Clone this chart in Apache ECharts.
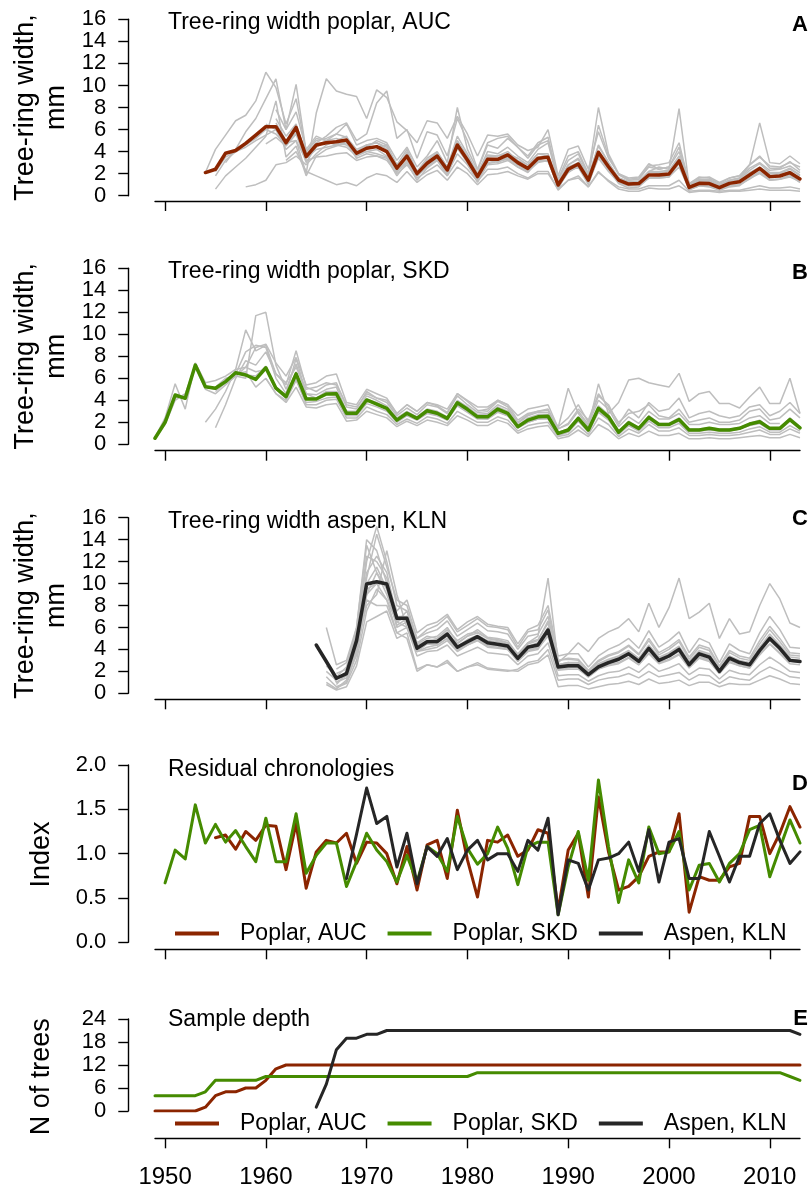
<!DOCTYPE html>
<html><head><meta charset="utf-8">
<script src="https://cdn.jsdelivr.net/npm/echarts@6/dist/echarts.min.js"></script>
<style>html,body{margin:0;padding:0;background:#fff}#c{width:809px;height:1185px}</style>
</head><body><div id="c"></div>
<script>
const FONT = "'Liberation Sans', Arial, Helvetica, sans-serif";
const xTicks = [1950,1960,1970,1980,1990,2000,2010];

// ---- Panel A: poplar AUC ring widths ----
const aucMeanStart = 1954;
const aucMean = [2.1,2.4,3.85,4.1,4.75,5.5,6.26,6.26,4.8,6.2,
 3.55,4.6,4.8,4.9,5.05,3.85,4.3,4.45,4.0,2.5,
 3.6,2.0,2.94,3.6,2.33,4.6,3.24,1.73,3.3,3.3,
 3.7,3.0,2.48,3.4,3.48,0.97,2.4,2.88,1.42,3.94,
 2.63,1.42,1.06,1.1,1.88,1.88,1.97,3.15,0.76,1.12,
 1.1,0.73,1.12,1.27,1.88,2.48,1.73,1.79,2.09,1.52];
const aucTreeStart = [1954,1955,1955,1958,1956,1961,1962,1960,1960,1961,1961,1955];
const aucTrees = [
 [2.1,4.2,5.5,6.8,7.3,8.6,11.2,9.8,6.5,8.8, 4.0,5.2,5.0,5.6,5.3,4.2,4.6,4.8,4.2,2.4, 4.0,2.0,3.0,3.8,2.2,5.0,3.3,1.6,3.4,3.0, 3.5,2.8,2.2,3.1,3.2,0.8,2.1,2.7,1.2,3.8, 2.4,1.2,0.9,0.9,1.6,1.7,1.8,2.9,0.6,0.9, 0.9,0.6,0.9,1.0,1.5,2.1,1.5,1.5,1.8,1.2],
 [2.2,3.5,4.0,4.4,5.0,5.5,6.0,4.8,5.0, 2.0,7.5,10.6,9.5,9.2,9.0,7.0,9.6,8.9,6.7, 5.9,4.8,6.8,6.6,5.2,7.2,5.6,3.6,5.5,5.4, 5.6,4.6,4.1,4.4,6.0,1.8,4.2,4.5,2.4,5.8, 3.4,2.0,1.6,1.7,2.9,2.4,2.6,4.4,1.1,1.6, 1.7,1.2,1.6,1.8,2.8,3.5,2.7,2.6,3.0,2.6],
 [0.6,1.8,2.6,3.4,4.4,5.4,8.6,3.5,4.5, 1.8,3.6,4.2,4.5,4.8,3.4,3.8,3.6,3.4,1.8, 3.0,1.4,2.5,3.2,1.8,4.3,3.0,1.2,2.9,3.1, 3.3,2.6,2.1,3.2,3.6,0.6,2.3,2.6,1.0,3.6, 2.4,1.1,0.7,0.8,1.6,1.6,1.7,3.0,0.5,0.9, 0.8,0.5,0.8,0.9,1.6,2.2,1.4,1.5,1.9,1.2],
 [0.8,1.0,1.4,2.8,3.0,3.6, 2.8,3.8,4.6,5.0,5.4,3.6,4.4,5.0,4.6,2.8, 4.2,2.2,3.4,4.0,2.6,5.4,3.8,2.0,4.0,3.8, 4.4,3.6,3.0,4.2,4.8,1.2,2.8,3.4,1.7,4.6, 3.0,1.6,1.2,1.2,2.1,2.1,2.2,3.4,0.8,1.2, 1.2,0.8,1.2,1.4,2.1,2.6,2.0,2.0,2.4,1.8],
 [3.0,4.2,5.8,7.0,8.8,10.6,6.0,10.1, 4.0,5.0,5.2,5.6,6.5,4.6,5.0,5.2,4.8,3.2, 4.4,2.6,3.6,5.0,3.0,8.0,4.2,2.3,4.6,4.3, 5.2,4.4,3.4,4.6,5.0,1.5,3.6,4.0,2.0,8.0, 3.8,2.0,1.5,1.6,2.7,2.8,3.0,4.8,1.1,1.7, 1.6,1.1,1.6,1.8,2.8,3.6,2.5,2.5,3.1,2.3],
 [7.0,5.4,6.5, 3.6,4.4,4.9,4.6,4.9,3.8,4.0,4.2,3.6,2.2, 3.2,1.8,2.6,3.4,2.0,4.4,3.0,1.5,3.0,3.2, 3.4,2.8,2.3,3.2,3.1,0.9,2.2,3.0,1.4,3.6, 2.8,1.6,1.2,1.3,2.2,2.6,2.4,7.9,0.9,1.4, 1.4,0.9,1.4,1.6,2.8,6.6,3.0,2.9,3.6,2.9],
 [3.2,4.0, 2.2,1.8,1.4,1.0,1.2,0.9,1.6,2.0,1.8,1.2, 2.2,1.2,1.9,2.3,1.4,2.6,2.0,1.0,1.9,2.0, 2.2,1.8,1.5,2.0,2.0,0.6,1.4,1.6,0.8,2.1, 1.4,0.8,0.6,0.6,0.9,0.9,0.9,1.4,0.4,0.5, 0.5,0.4,0.5,0.5,0.7,0.9,0.7,0.7,0.8,0.6],
 [6.5,6.0,4.2,5.0, 3.2,3.5,3.6,3.8,3.9,3.2,3.5,3.6,3.2,2.0, 2.8,1.6,2.2,2.8,1.8,3.2,2.4,1.3,2.4,2.4, 2.6,2.0,1.6,2.2,2.2,0.5,1.4,1.8,0.8,2.2, 1.3,0.6,0.4,0.4,0.7,0.6,0.6,0.9,0.3,0.4, 0.4,0.3,0.4,0.4,0.5,0.6,0.5,0.5,0.5,0.4],
 [4.7,5.3,4.5,5.6, 3.0,4.5,5.0,4.8,4.6,3.9,4.5,4.4,4.6,2.5, 3.8,2.0,2.8,3.4,2.6,4.6,3.4,1.8,3.5,3.6, 3.8,3.4,2.8,3.8,3.6,1.0,2.6,3.0,1.6,4.0, 2.6,1.6,1.2,1.2,2.2,2.0,2.0,3.0,0.8,1.2, 1.2,0.8,1.2,1.4,2.0,2.4,1.8,1.9,2.2,1.6],
 [6.6,5.0,6.4, 3.8,4.8,5.4,6.2,6.6,5.0,5.6,8.4,9.5,5.2, 6.0,3.4,5.8,5.5,3.6,7.0,5.0,2.4,4.8,5.2, 5.4,4.4,3.6,4.8,5.3,1.4,3.2,3.8,1.8,6.4, 3.6,1.9,1.4,1.5,2.6,2.4,2.6,4.0,1.0,1.5, 1.5,1.0,1.4,1.6,2.5,3.0,2.3,2.4,2.7,2.1],
 [7.8,6.0,7.6, 4.2,5.4,5.0,5.2,4.9,4.0,4.6,4.8,4.4,2.8, 3.6,2.2,3.2,3.9,2.6,5.0,3.6,2.0,3.7,3.6, 4.0,3.2,2.8,3.8,3.8,1.1,2.8,3.3,1.6,4.5, 3.0,1.6,1.3,1.3,2.2,2.2,2.3,3.6,0.9,1.3, 1.3,0.8,1.3,1.5,2.3,2.9,2.1,2.1,2.5,1.9],
 [1.8,3.2,4.0,4.6,5.2,6.0,5.6,4.6,5.8, 3.4,4.2,4.4,4.6,4.4,3.6,4.0,3.8,3.5,2.2, 3.0,1.8,2.6,3.2,2.0,3.8,2.8,1.4,2.8,2.9, 3.2,2.6,2.2,3.0,3.2,0.8,2.2,2.6,1.2,3.4, 2.2,1.2,0.9,1.0,1.6,1.6,1.7,2.6,0.6,0.9, 0.9,0.6,0.9,1.0,1.6,2.0,1.4,1.5,1.7,1.3]
];

// ---- Panel B: poplar SKD ring widths ----
const skdMeanStart = 1949;
const skdMean = [0.55,2.0,4.48,4.18,7.2,5.24,5.09,5.7,6.5,6.3,
 5.9,6.96,5.1,4.33,6.4,4.12,4.12,4.57,4.6,2.82,
 2.82,4.03,3.66,3.27,2.2,2.82,2.36,3.05,2.82,2.36,
 3.78,3.18,2.5,2.5,3.2,2.82,1.6,2.2,2.5,2.55,
 1.0,1.3,2.36,1.3,3.27,2.5,1.1,1.96,1.45,2.45,
 1.8,1.8,2.25,1.3,1.3,1.45,1.3,1.3,1.45,1.84,
 2.05,1.45,1.45,2.25,1.5];
const skdTreeStart = [1949,1949,1949,1949,1954,1955,1955,1955,1960,1981];
const skdTrees = [
 [0.6,2.4,5.5,3.2,7.4,5.6,5.8,6.2,6.8,10.4, 8.5,9.0,6.4,5.4,8.5,5.2,4.8,5.4,5.6,3.4, 3.2,4.8,4.2,3.8,2.6,3.3,2.7,3.6,3.4,2.8, 4.4,3.6,2.9,2.8,3.6,3.2,1.9,2.6,2.9,2.9, 1.6,2.4,3.6,2.0,4.4,3.6,1.8,3.2,2.4,3.8, 3.0,3.2,4.2,2.4,2.8,3.0,2.6,2.4,2.6,3.4, 3.6,2.6,3.0,3.8,2.8],
 [0.5,1.8,4.0,4.6,7.0,5.0,4.6,5.4,6.2,6.0, 11.7,12.0,7.2,5.0,7.3,4.6,4.5,5.0,5.2,3.0, 3.0,4.4,4.0,3.5,2.4,3.0,2.5,3.2,3.0,2.5, 4.0,3.4,2.7,2.7,3.4,3.0,1.7,2.4,2.7,2.7, 1.1,1.4,2.5,1.4,3.5,2.7,1.2,2.1,1.5,2.6, 1.9,1.9,2.4,1.4,1.4,1.5,1.4,1.4,1.5,1.9, 2.2,1.5,1.5,2.4,1.6],
 [0.6,1.9,4.2,4.5,7.3,5.2,5.0,5.6,6.4,6.6, 5.2,6.0,4.6,4.0,5.8,3.8,3.9,4.2,4.3,2.6, 2.6,3.7,3.4,3.0,2.0,2.6,2.2,2.8,2.6,2.2, 3.5,2.9,2.3,2.3,2.9,2.6,1.5,2.0,2.3,2.4, 0.9,1.2,2.2,1.2,3.0,2.3,1.0,1.8,1.3,2.3, 1.7,1.7,2.1,1.2,1.2,1.3,1.2,1.2,1.4,1.7, 1.9,1.3,1.3,2.1],
 [0.5,2.0,4.3,4.3,7.1,5.3,5.0,5.8,6.6,6.3, 6.2,7.1,5.2,4.4,6.6,4.2,4.2,4.6,4.7,2.9, 2.9,4.1,3.8,3.3,2.3,2.9,2.4,3.1,2.9,2.4, 3.8,3.2,2.5,2.5,3.2,2.8,1.6,2.2,2.5,2.5, 1.0,1.3,2.4,1.3,3.3,2.5,1.1,2.0,1.4,2.5, 1.8,1.8,2.3,1.3,1.3,1.4,1.3,1.3,1.4,1.8, 2.1,1.4,1.4,2.3,1.5],
 [2.0,3.2,4.8,6.8,7.0, 8.8,9.1,7.4,6.2,7.9,5.4,5.6,6.2,6.4,3.8, 3.6,5.0,4.6,4.2,2.8,3.6,3.0,3.8,3.5,2.9, 4.6,3.9,3.1,3.0,3.9,3.4,2.0,2.7,3.0,3.1, 1.4,1.9,3.2,2.2,4.6,3.4,2.0,2.8,3.0,3.6, 2.6,2.4,3.2,2.0,2.2,2.4,2.0,2.0,2.2,3.0, 3.2,2.2,2.4,3.2,2.4],
 [1.5,3.6,6.0,7.6, 7.2,8.4,6.4,5.6,7.0,5.0,5.2,5.6,5.4,3.6, 3.4,4.6,4.2,4.0,2.8,3.6,3.0,3.8,3.6,3.2, 4.6,4.0,3.4,3.4,4.0,3.6,2.6,3.2,3.4,3.6, 1.5,5.1,2.8,1.6,5.5,2.8,3.8,5.85,6.0,5.6, 5.4,5.2,6.45,3.9,4.6,4.8,3.7,3.7,3.3,4.3, 5.2,3.7,3.7,6.0,2.8],
 [4.8,5.6,6.4,8.4, 9.0,8.8,6.0,4.6,7.8,4.6,4.2,4.8,4.8,3.0, 2.8,4.0,3.6,3.2,2.1,2.7,2.2,2.9,2.7,2.2, 3.6,3.0,2.4,2.3,3.0,2.6,1.5,2.0,2.3,2.3, 0.8,1.1,2.1,1.1,2.9,2.2,0.9,1.7,1.2,2.1, 1.5,1.5,1.9,1.0,1.0,1.1,1.0,1.0,1.1,1.4, 1.6,1.1,1.1,1.7,1.2],
 [5.2,6.0,6.2,7.0, 6.6,6.8,5.0,4.2,6.0,3.6,3.6,4.0,4.1,2.4, 2.4,3.4,3.0,2.7,1.8,2.3,1.9,2.5,2.3,1.9, 3.0,2.5,2.0,2.0,2.5,2.2,1.2,1.7,1.9,2.0, 0.7,0.9,1.7,0.9,2.4,1.8,0.7,1.4,1.0,1.8, 1.2,1.2,1.5,0.8,0.8,0.9,0.8,0.8,0.9,1.1, 1.3,0.9,0.9,1.4,1.0],
 [6.0,4.6,3.8,5.2,3.4,3.3,3.6,3.7,2.1, 2.2,3.0,2.7,2.4,1.6,2.1,1.7,2.2,2.0,1.7, 2.6,2.2,1.7,1.7,2.2,1.9,1.0,1.4,1.6,1.7, 0.5,0.7,1.3,0.7,1.8,1.3,0.5,1.0,0.7,1.2, 0.8,0.8,1.0,0.5,0.5,0.6,0.5,0.5,0.6,0.7, 0.8,0.6,0.6,0.9,0.6],
 [3.0,3.2,4.0,3.6,2.2,2.8,3.0,3.2, 1.4,1.8,3.0,1.8,4.0,3.2,1.6,2.5,1.9,3.0, 2.3,2.3,2.8,1.8,1.8,2.0,1.8,1.8,1.9,2.4, 2.6,1.9,1.9]
];

// ---- Panel C: aspen KLN ring widths ----
const klnMeanStart = 1965;
const klnMean = [4.4,2.9,1.37,1.8,4.8,9.96,10.17,9.96,6.83,6.83,
 4.1,4.7,4.7,5.4,4.2,4.7,5.16,4.6,4.46,4.31,
 3.19,4.19,4.4,5.77,2.4,2.5,2.5,1.7,2.4,2.8,
 3.1,3.6,2.9,4.1,3.0,3.4,4.0,2.6,3.6,3.3,
 2.0,3.2,2.8,2.6,3.9,5.0,4.1,3.0,2.9];
const klnTreeStart = [1965,1966,1966,1966,1966,1966,1966,1967,1967,1967,1967,1967,1968,1967];
const klnTrees = [
 [4.4,3.0,1.0,1.6,5.0,12.0,15.2,12.0,8.0,7.5, 5.0,5.5,5.8,6.6,5.2,5.8,6.4,5.7,5.6,5.4, 4.0,5.2,5.4,7.0,3.0,3.2,3.1,2.1,3.0,3.5, 3.8,4.4,3.6,5.0,3.7,4.2,4.9,3.3,4.4,4.1, 2.5,3.9,3.4,3.2,4.8,6.1,5.0,3.7,3.6],
 [2.0,1.2,2.0,4.2,8.0,9.0,13.0,9.0,6.0, 3.8,4.0,4.2,4.8,3.8,4.4,4.8,4.2,4.1,4.0, 2.9,3.8,4.0,5.4,2.1,2.2,2.2,1.5,2.2,2.5, 2.7,3.2,2.6,3.6,2.7,3.0,3.5,2.3,3.2,2.9, 1.8,2.8,2.5,2.3,3.5,4.5,3.6,2.7,2.6],
 [6.0,2.6,3.0,6.0,14.0,13.0,10.0,7.5,8.5, 5.5,6.2,6.5,7.2,5.8,6.5,7.0,6.3,6.1,6.0, 4.5,5.8,6.2,8.0,3.4,3.6,3.6,2.4,3.4,4.0, 4.4,5.0,4.1,5.7,4.2,4.8,5.6,3.7,5.0,4.6, 2.8,4.5,3.9,3.6,5.5,7.0,5.8,4.2,4.1],
 [1.5,0.6,1.0,3.8,10.0,11.5,9.5,6.0,6.5, 4.0,4.6,4.8,5.5,4.5,5.2,5.5,5.0,4.8,4.6, 3.6,4.6,5.2,10.5,2.8,3.6,4.6,3.8,5.0,5.6, 6.0,6.8,5.6,8.2,6.0,7.8,10.5,6.8,7.4,8.2, 5.0,6.8,5.4,5.6,8.0,10.0,8.6,6.4,6.0],
 [1.0,0.4,1.2,4.0,9.0,10.0,8.5,6.5,7.0, 4.2,4.8,4.6,5.2,4.0,4.6,5.0,4.5,4.4,4.2, 3.2,4.2,4.4,5.6,2.2,2.3,2.4,1.6,2.3,2.7, 3.0,3.5,2.8,3.9,2.9,3.3,3.8,2.5,3.4,3.1, 1.9,3.0,2.6,2.4,3.7,4.8,3.9,2.9,2.8],
 [2.5,1.5,2.4,5.2,11.0,12.5,11.0,7.0,7.0, 4.5,5.0,5.2,6.0,4.6,5.2,5.8,5.1,5.0,4.8, 3.5,4.6,4.9,6.4,2.6,2.8,2.8,1.9,2.7,3.1, 3.4,3.9,3.2,4.4,3.3,3.7,4.3,2.9,3.9,3.6, 2.2,3.4,3.0,2.8,4.2,5.4,4.4,3.3,3.2],
 [0.8,0.3,0.6,2.5,6.5,7.0,7.5,5.0,5.5, 2.2,2.6,2.4,2.8,2.0,2.4,2.6,2.2,2.1,2.0, 2.2,2.8,3.0,4.0,1.2,1.3,1.3,0.8,1.2,1.4, 1.5,1.8,1.4,2.0,1.5,1.7,1.9,1.2,1.7,1.6, 0.9,1.5,1.3,1.2,1.9,2.4,2.0,1.5,1.4],
 [1.8,2.2,6.0,13.5,11.0,9.0,6.5,6.0, 3.8,4.2,4.4,5.0,3.9,4.4,4.8,4.3,4.2,4.0, 3.0,3.9,4.2,5.4,2.6,2.8,2.6,1.8,2.6,3.0, 3.3,3.8,3.0,4.2,3.0,3.4,4.0,2.7,3.6,3.4, 2.0,3.2,2.8,2.6,3.9,5.0,4.1,3.0,2.9],
 [0.8,1.8,4.4,10.5,14.5,11.5,8.5,8.0, 5.0,5.8,6.2,7.0,5.6,6.2,6.8,6.1,6.0,5.8, 4.2,5.6,5.8,7.6,3.0,3.1,3.0,2.0,2.9,3.4, 3.7,4.3,3.5,4.8,3.5,4.0,4.7,3.1,4.2,3.9, 2.4,3.7,3.2,3.0,4.5,5.8,4.7,3.5,3.4],
 [1.0,1.4,3.6,8.5,8.0,8.0,5.5,6.0, 3.4,3.8,3.9,4.4,3.4,3.8,4.2,3.7,3.6,3.5, 2.6,3.4,3.6,4.6,1.6,1.7,1.7,1.1,1.6,1.9, 2.0,2.4,1.9,2.7,2.0,2.3,2.7,1.7,2.3,2.2, 1.3,2.1,1.8,1.7,2.6,3.3,2.7,2.0,1.9],
 [2.2,2.8,5.5,12.5,12.0,10.5,7.0,6.5, 4.4,4.8,4.9,5.6,4.3,4.9,5.3,4.8,4.7,4.5, 3.3,4.3,4.6,6.0,2.5,2.6,2.7,1.8,2.6,3.0, 3.2,3.7,3.0,4.2,3.1,3.5,4.1,2.8,3.7,3.4, 2.1,3.3,2.9,2.7,4.0,5.1,4.2,3.1,3.0],
 [1.4,1.6,4.0,9.5,10.0,10.0,6.5,7.5, 4.6,5.2,5.0,5.8,4.8,5.4,5.6,5.0,4.9,4.6, 3.4,4.5,4.8,6.6,2.6,2.7,2.6,1.8,2.6,3.0, 3.3,3.8,3.1,4.3,3.2,3.6,4.2,2.8,3.8,3.5, 2.1,3.3,2.9,2.7,4.1,5.2,4.3,3.1,3.0],
 [1.2,3.5,9.0,11.0,9.5,6.2,6.8, 3.8,4.5,4.4,5.0,4.0,4.5,4.9,4.4,4.3,4.1, 3.0,3.9,4.1,5.2,2.2,2.4,2.3,1.5,2.2,2.6, 2.8,3.3,2.6,3.7,2.8,3.1,3.6,2.4,3.3,3.0, 1.8,2.9,2.5,2.3,3.6,4.5,3.7,2.7],
 [0.5,0.9,3.0,7.5,9.5,8.5,5.5,5.0, 2.0,2.6,2.4,3.0,2.0,2.4,2.8,2.3,2.2,2.1, 2.0,2.6,2.8,3.5,0.6,0.7,0.7,0.4,0.6,0.8, 0.9,1.1,0.8,1.3,0.9,1.0,1.2,0.7,1.0,1.0, 0.6,0.9,0.8,0.8,1.2,1.6,1.3,0.9,0.8]
];

// ---- Panel D: residual chronologies ----
const resAucStart = 1955;
const resAuc = [1.18,1.21,1.05,1.25,1.15,1.32,1.31,0.82,1.34,0.61,
 1.02,1.15,1.12,1.23,0.89,1.13,1.12,1.0,0.66,1.08,
 0.59,1.1,1.15,0.72,1.49,0.93,0.51,1.15,1.13,1.21,
 0.97,1.04,1.27,1.23,0.36,1.04,1.23,0.51,1.64,1.02,
 0.59,0.63,0.74,0.97,1.02,1.02,1.45,0.34,0.74,0.70,
 0.70,0.85,0.89,1.42,1.42,1.0,1.23,1.53,1.30];
const resSkdStart = 1950;
const resSkd = [0.67,1.04,0.94,1.55,1.12,1.33,1.13,1.26,1.08,0.91,
 1.40,0.91,0.91,1.45,0.78,0.98,1.12,1.12,0.63,0.91,
 1.23,1.04,0.91,0.68,0.98,0.68,1.08,1.0,0.8,1.42,
 1.06,0.88,1.0,1.30,1.06,0.65,1.08,1.13,1.13,0.31,
 0.85,1.25,0.70,1.83,1.08,0.45,0.93,0.67,1.30,1.0,
 1.02,1.25,0.59,0.87,0.89,0.68,0.89,1.0,1.27,1.32,
 0.74,1.06,1.38,1.12];
const resKlnStart = 1968;
const resKln = [0.72,1.22,1.74,1.34,1.42,0.85,1.23,0.66,1.08,0.97,
 1.17,0.82,1.04,1.15,0.93,1.0,1.0,0.8,1.15,1.04,
 1.4,0.31,0.93,0.89,0.59,0.93,0.95,1.0,1.13,0.8,
 1.27,0.68,1.13,1.17,0.72,0.72,1.25,0.97,0.68,0.97,
 0.97,1.34,1.45,1.15,0.89,1.02];

// ---- Panel E: sample depth ----
const depthStart = 1949;
const depthAuc = [0,0,0,0,0,1,4,5,5,6,6,8,11,12,12,12,12,12,12,12,
 12,12,12,12,12,12,12,12,12,12,12,12,12,12,12,12,12,12,12,12,
 12,12,12,12,12,12,12,12,12,12,12,12,12,12,12,12,12,12,12,12,
 12,12,12,12,12];
const depthSkd = [4,4,4,4,4,5,8,8,8,8,8,9,9,9,9,9,9,9,9,9,
 9,9,9,9,9,9,9,9,9,9,9,9,10,10,10,10,10,10,10,10,
 10,10,10,10,10,10,10,10,10,10,10,10,10,10,10,10,10,10,10,10,
 10,10,10,9,8];
const depthKlnStart = 1965;
const depthKln = [1,7,16,19,19,20,20,21,21,21,21,21,21,21,21,21,21,21,21,21,
 21,21,21,21,21,21,21,21,21,21,21,21,21,21,21,21,21,21,21,21,
 21,21,21,21,21,21,21,21,20];

const panelTitles = ['Tree-ring width poplar, AUC','Tree-ring width poplar, SKD','Tree-ring width aspen, KLN','Residual chronologies','Sample depth'];
const panelLetters = ['A','B','C','D','E'];
const yNames = ['Tree-ring width,\nmm','Tree-ring width,\nmm','Tree-ring width,\nmm','Index','N of trees'];
const legendNames = ['Poplar, AUC','Poplar, SKD','Aspen, KLN'];

const C_RED = '#8B2500', C_GREEN = '#458B00', C_BLACK = '#262626', C_GREY = '#BEBEBE';

function pts(start, arr){ const out=[]; arr.forEach((v,i)=>{ if(v!==null && v!==undefined) out.push([start+i, v]); }); return out; }

const gridBoxes = [
 {top:19.3, height:176.4},
 {top:268.3, height:176},
 {top:517.7, height:175.6},
 {top:765, height:177.3},
 {top:1019, height:92}
];
const xOffsets = [5.3, 6.4, 6, 7, 27.3];
const yRanges = [
 {min:0,max:16,interval:2},{min:0,max:16,interval:2},{min:0,max:16,interval:2},
 {min:0,max:2,interval:0.5},{min:0,max:24,interval:6}
];
const AX = {color:'#000', width:1.4};

const grid = gridBoxes.map(g=>({left:155, width:645, top:g.top, height:g.height, containLabel:false, outerBoundsMode:'none', show:false}));
const xAxis = xOffsets.map((off,i)=>({
  gridIndex:i, type:'value', min:1949, max:2013, position:'bottom', offset:off,
  axisLine:{show:true, onZero:false, lineStyle:AX},
  axisTick:{show:true, length:10, inside:false, customValues:xTicks, lineStyle:AX},
  axisLabel:{show:i===4, customValues:xTicks, fontSize:24, fontFamily:FONT, color:'#000', margin:27,
    formatter:(v=>String(v))},
  splitLine:{show:false}
}));
const yAxis = yRanges.map((r,i)=>({
  gridIndex:i, type:'value', min:r.min, max:r.max, interval:r.interval, position:'left', offset:26.7,
  axisLine:{show:true, onZero:false, lineStyle:AX},
  axisTick:{show:true, length:10, inside:false, lineStyle:AX},
  axisLabel:{fontSize:22, fontFamily:FONT, color:'#000', margin:22,
    formatter: i===3 ? (v=>v.toFixed(1)) : (v=>String(v))},
  splitLine:{show:false}
}));

const series = [];
function grey(gi, start, arr){
  series.push({type:'line', xAxisIndex:gi, yAxisIndex:gi, data:pts(start,arr), symbol:'none', showSymbol:false,
    silent:true, z:1, lineStyle:{color:C_GREY, width:1.5}, animation:false});
}
function main(gi, start, arr, color, width, name){
  const s = {type:'line', xAxisIndex:gi, yAxisIndex:gi, data:pts(start,arr), symbol:'none', showSymbol:false,
    silent:true, z:3, lineStyle:{color:color, width:width, cap:'round', join:'round'}, itemStyle:{color:color}, animation:false};
  if(name) s.name = name;
  series.push(s);
}
aucTrees.forEach((a,k)=>grey(0, aucTreeStart[k], a));
main(0, aucMeanStart, aucMean, C_RED, 3.5);
skdTrees.forEach((a,k)=>grey(1, skdTreeStart[k], a));
main(1, skdMeanStart, skdMean, C_GREEN, 3.5);
klnTrees.forEach((a,k)=>grey(2, klnTreeStart[k], a));
main(2, klnMeanStart, klnMean, C_BLACK, 3.5);
main(3, resAucStart, resAuc, C_RED, 3, legendNames[0]);
main(3, resSkdStart, resSkd, C_GREEN, 3, legendNames[1]);
main(3, resKlnStart, resKln, C_BLACK, 3, legendNames[2]);
main(4, depthStart, depthAuc, C_RED, 3, legendNames[0]);
main(4, depthStart, depthSkd, C_GREEN, 3, legendNames[1]);
main(4, depthKlnStart, depthKln, C_BLACK, 3, legendNames[2]);

const legendCommon = {data:legendNames, left:175, orient:'horizontal', itemWidth:44, itemHeight:4, itemGap:21,
  padding:0, selectedMode:false, icon:'rect',
  textStyle:{fontSize:23, fontFamily:FONT, color:'#000', padding:[0,0,0,16]}};
const legend = [
  Object.assign({}, legendCommon, {top:922}),
  Object.assign({}, legendCommon, {top:1112})
];

const titleY = [23, 271.7, 521.3, 769.5, 1019.5];
const letterY = [25, 273, 519, 784, 1019];
const nameY = [107.5, 356.3, 605.5, 854.5, 1076.7];
const graphic = [];
panelTitles.forEach((t,i)=>{
  graphic.push({type:'text', x:168, y:titleY[i], silent:true,
    style:{text:t, font:'23px '+FONT, fill:'#000', textAlign:'left', textVerticalAlign:'middle', align:'left', verticalAlign:'middle'}});
  graphic.push({type:'text', x:808, y:letterY[i], silent:true,
    style:{text:panelLetters[i], font:'bold 22px '+FONT, fill:'#000', textAlign:'right', textVerticalAlign:'middle', align:'right', verticalAlign:'middle'}});
  graphic.push({type:'text', x:41.5, y:nameY[i], rotation:Math.PI/2, silent:true,
    style:{text:yNames[i], font:'27px '+FONT, fill:'#000', lineHeight:31, textAlign:'center', textVerticalAlign:'middle', align:'center', verticalAlign:'middle'}});
});

const chart = echarts.init(document.getElementById('c'), null, {renderer:'canvas', width:809, height:1185});
chart.setOption({
  animation:false, backgroundColor:'#fff',
  grid, xAxis, yAxis, series, legend, graphic,
  tooltip:{show:false}
});
</script>
</body></html>
